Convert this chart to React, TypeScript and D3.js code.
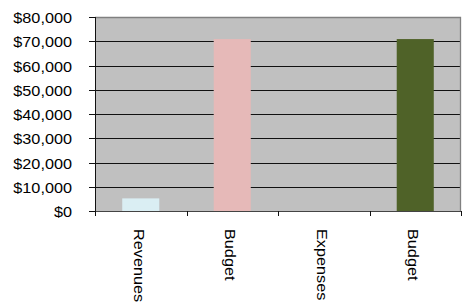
import React, { useLayoutEffect, useRef } from 'react';
import * as d3 from 'd3';

// chart values
const categories: string[] = ['Revenues', 'Budget', 'Expenses', 'Budget'];
const values: number[] = [5200, 70900, 0, 70900];
const barColors: string[] = ['#DAEEF3', '#E6B9B8', '#C0C0C0', '#4F6228'];
const yTicks: number[] = [0, 10000, 20000, 30000, 40000, 50000, 60000, 70000, 80000];

const width = 462;
const height = 305;
const margin = { top: 17, right: 1, bottom: 94, left: 95 };

const App: React.FC = () => {
  const svgRef = useRef<SVGSVGElement>(null);

  const x = d3.scaleBand<number>()
    .domain(categories.map((_, i) => i))
    .range([margin.left, width - margin.right])
    .padding(0);
  const y = d3.scaleLinear()
    .domain([0, 80000])
    .range([height - margin.bottom, margin.top]);

  const fmt = (v: number) => '$' + d3.format(',')(v);
  const barW = x.bandwidth() * 0.405;
  const x0 = margin.left;
  const x1 = width - margin.right;
  const y0 = y(0);
  const font = '"Liberation Sans", Arial, sans-serif';
  const stretch = 1.16;

  // the labels in the reference are drawn a bit wider than the font, stretch them
  useLayoutEffect(() => {
    if (!svgRef.current) return;
    d3.select(svgRef.current).selectAll<SVGTextElement, unknown>('text.lbl').each(function () {
      const len = this.getComputedTextLength();
      d3.select(this).attr('textLength', len * stretch).attr('lengthAdjust', 'spacingAndGlyphs');
    });
  }, []);

  return (
    <svg ref={svgRef} width={width} height={height} style={{ position: 'absolute', left: 0, top: 0 }}>
      {/* plot background */}
      <rect x={x0} y={margin.top} width={x1 - x0} height={y0 - margin.top} fill="#C0C0C0" />

      {/* gridlines */}
      {yTicks.filter(t => t > 0 && t < 80000).map(t => (
        <line key={t} x1={x0} x2={x1} y1={Math.round(y(t)) + 0.5} y2={Math.round(y(t)) + 0.5}
          stroke="#111" strokeWidth={1} />
      ))}

      {/* bars */}
      {values.map((v, i) => (
        v > 0 ? (
          <rect key={i}
            x={(x(i) as number) + x.bandwidth() / 2 - barW / 2}
            y={y(v)}
            width={barW}
            height={y0 - y(v)}
            fill={barColors[i]} />
        ) : null
      ))}

      {/* border: top and right */}
      <path d={`M${x0},${margin.top + 0.5}H${x1 - 0.5}V${y0}`} fill="none" stroke="#808080" strokeWidth={1.3} />

      {/* y axis */}
      <line x1={x0 + 0.5} x2={x0 + 0.5} y1={margin.top} y2={y0} stroke="#111" />
      {yTicks.map(t => (
        <g key={t} transform={`translate(0,${Math.round(y(t)) + 0.5})`}>
          <line x1={x0 - 6} x2={x0} stroke="#111" />
          <text className="lbl" x={72} textAnchor="end" dy="0.4em"
            fontFamily={font} fontSize={14} fill="#000">{fmt(t)}</text>
        </g>
      ))}

      {/* x axis */}
      <line x1={x0} x2={x1} y1={Math.round(y0) + 0.5} y2={Math.round(y0) + 0.5} stroke="#444" />
      {d3.range(categories.length + 1).map(i => {
        const tx = Math.round(x0 + i * x.bandwidth()) + 0.5;
        return <line key={i} x1={tx} x2={tx} y1={y0} y2={y0 + 5} stroke="#111" />;
      })}
      {categories.map((c, i) => (
        <text key={i} className="lbl"
          transform={`translate(${(x(i) as number) + x.bandwidth() / 2 - 2},229) rotate(90)`}
          textAnchor="start" dy="0.35em"
          fontFamily={font} fontSize={14} fill="#000">{c}</text>
      ))}
    </svg>
  );
};

export default App;
